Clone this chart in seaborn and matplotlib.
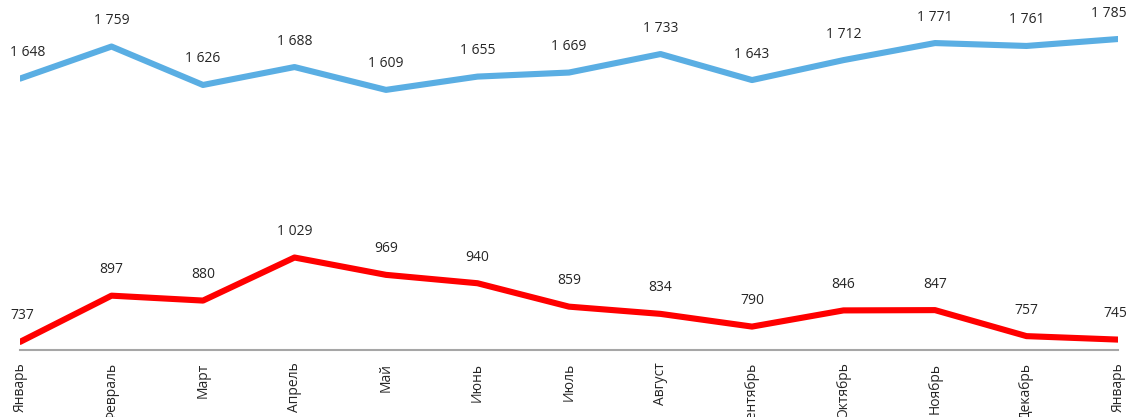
import numpy as np
import pandas as pd
import matplotlib
matplotlib.use("Agg")
import matplotlib.pyplot as plt
import seaborn as sns

aylar = ["Январь", "Февраль", "Март", "Апрель", "Май", "Июнь", "Июль",
         "Август", "Сентябрь", "Октябрь", "Ноябрь", "Декабрь", "Январь"]
mavi_seri = [1648, 1759, 1626, 1688, 1609, 1655, 1669, 1733, 1643, 1712, 1771, 1761, 1785]
kirmizi_seri = [737, 897, 880, 1029, 969, 940, 859, 834, 790, 846, 847, 757, 745]

sns.set_style("white")
plt.rcParams["font.family"] = ["Open Sans", "DejaVu Sans"]

df = pd.DataFrame({"x": np.arange(len(aylar)), "mavi": mavi_seri, "kirmizi": kirmizi_seri})

fig = plt.figure(figsize=(11.28, 4.17), dpi=100)
ax = fig.add_axes([20 / 1128, 67 / 417, 1098 / 1128, 350 / 417])

sns.lineplot(data=df, x="x", y="mavi", color="#5AAEE3", linewidth=4.4, ax=ax)
sns.lineplot(data=df, x="x", y="kirmizi", color="#FF0000", linewidth=4.4, ax=ax)

px = 72 / 100  # piksel -> punkt
son = len(aylar) - 1
for seri in (mavi_seri, kirmizi_seri):
    for i, v in enumerate(seri):
        metin = f"{v:,}".replace(",", " ")
        if i == 0:
            ha, dx = "left", -10
        elif i == son:
            ha, dx = "right", 9
        else:
            ha, dx = "center", 0
        ax.annotate(metin, (i, v), xytext=(dx * px, 26 * px), textcoords="offset points",
                    ha=ha, va="center", fontsize=10, color="#262626")

ax.set_xlim(0, son)
ax.set_ylim(709, 1920)
ax.set_xticks(df["x"])
ax.set_xticklabels(aylar, rotation=90, fontsize=10, color="#262626")
ax.tick_params(axis="x", length=0, pad=9)
ax.set_yticks([])
ax.set_xlabel("")
ax.set_ylabel("")
for s in ["top", "right", "left"]:
    ax.spines[s].set_visible(False)
ax.spines["bottom"].set_color("#A6A6A6")
ax.spines["bottom"].set_linewidth(1.5)
ax.patch.set_alpha(0)

fig.savefig("out.png", dpi=100)
